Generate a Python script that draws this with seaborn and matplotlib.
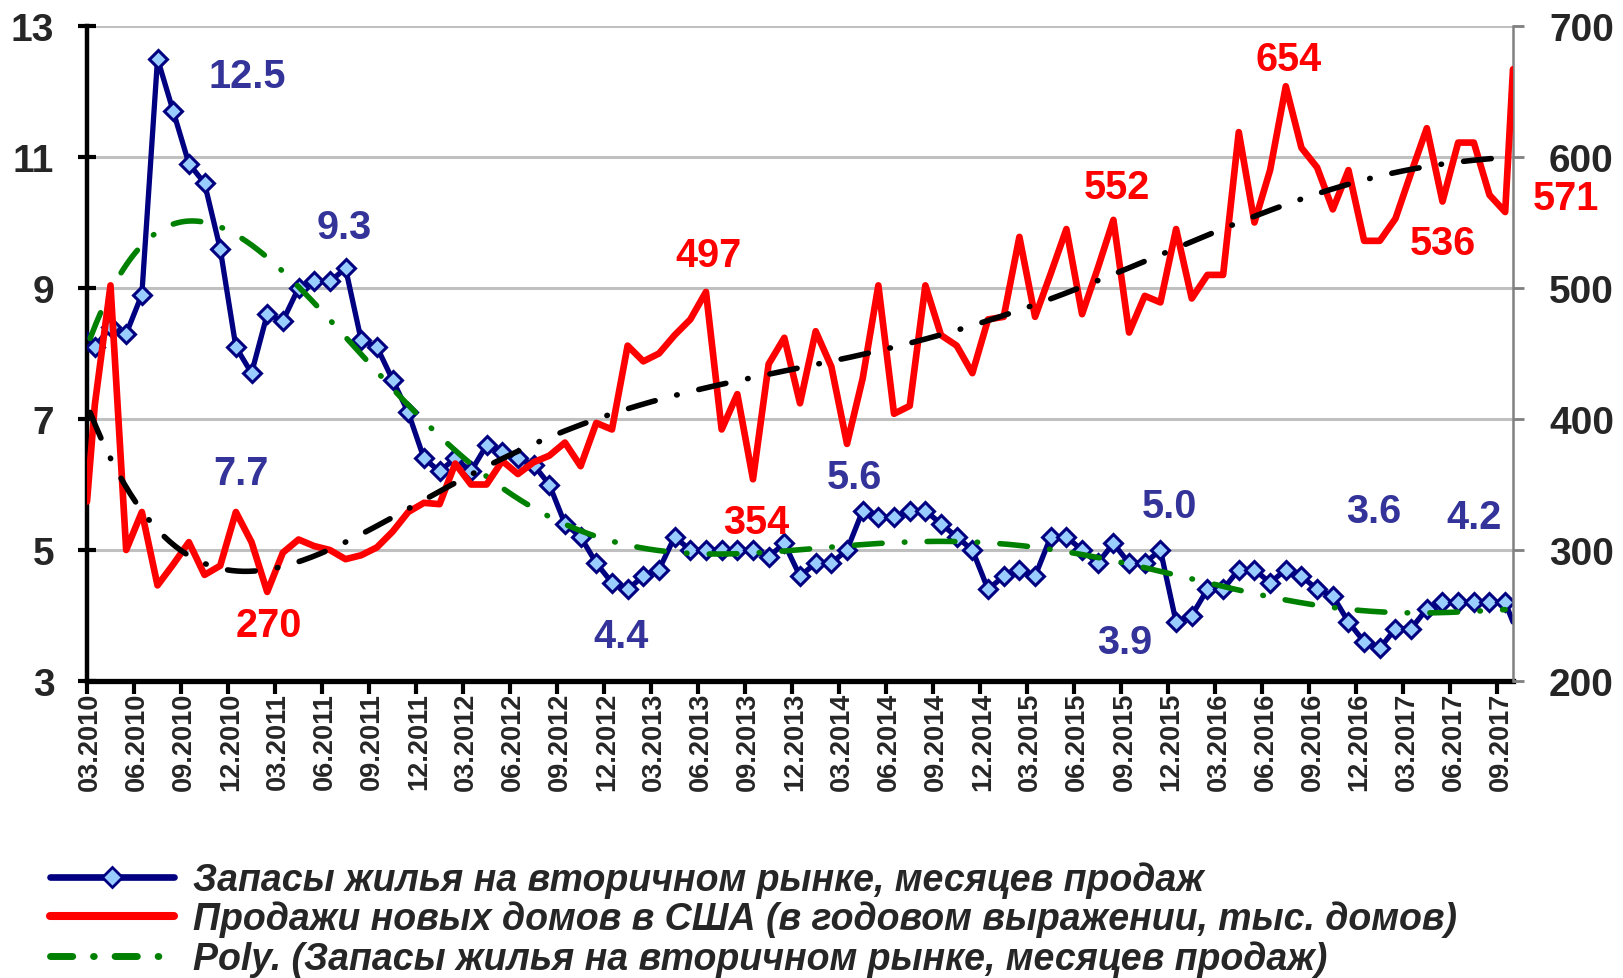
import numpy as np
import pandas as pd
import matplotlib
matplotlib.use("Agg")
import matplotlib.pyplot as plt
import seaborn as sns
from matplotlib.lines import Line2D

# ---------------- data (monthly, 02.2010 - 10.2017) ----------------
months = [p.strftime("%m.%Y") for p in pd.period_range("2010-02", "2017-10", freq="M")]

# Existing-home inventory, months of supply (left axis)
inventory = [8.3,
             8.1, 8.4, 8.3, 8.9, 12.5, 11.7, 10.9, 10.6, 9.6, 8.1,
             7.7, 8.6, 8.5, 9.0, 9.1, 9.1, 9.3, 8.2, 8.1, 7.6,
             7.1, 6.4, 6.2, 6.4, 6.2, 6.6, 6.5, 6.4, 6.3, 6.0,
             5.4, 5.2, 4.8, 4.5, 4.4, 4.6, 4.7, 5.2, 5.0, 5.0,
             5.0, 5.0, 5.0, 4.9, 5.1, 4.6, 4.8, 4.8, 5.0, 5.6,
             5.5, 5.5, 5.6, 5.6, 5.4, 5.2, 5.0, 4.4, 4.6, 4.7,
             4.6, 5.2, 5.2, 5.0, 4.8, 5.1, 4.8, 4.8, 5.0, 3.9,
             4.0, 4.4, 4.4, 4.7, 4.7, 4.5, 4.7, 4.6, 4.4, 4.3,
             3.9, 3.6, 3.5, 3.8, 3.8, 4.1, 4.2, 4.2, 4.2, 4.2,
             4.2,
             3.9]

# New home sales, SAAR, thousands (right axis)
new_home_sales = [337,
                  411, 502, 300, 329, 273, 289, 306, 281, 288, 329,
                  306, 268, 298, 308, 303, 300, 293, 296, 302, 314,
                  329, 336, 335, 366, 350, 350, 368, 358, 367, 372,
                  382, 364, 397, 392, 456, 444, 450, 464, 476, 497,
                  392, 419, 354, 442, 462, 412, 467, 440, 381, 431,
                  502, 404, 410, 502, 464, 456, 435, 476, 478, 539,
                  478, 511, 545, 480, 515, 552, 466, 494, 489, 545,
                  492, 510, 510, 619, 550, 590, 654, 607, 592, 560,
                  590, 536, 536, 553, 588, 622, 566, 611, 611, 571,
                  558,
                  667]

left_ticks = [3, 5, 7, 9, 11, 13]
right_ticks = [200, 300, 400, 500, 600, 700]
xtick_labels = [m for m in months[1:-1] if m[:2] in ("03", "06", "09", "12")]

# point annotations: (text, month index position, value)
blue_notes = [("12.5", 10.2, 12.23), ("9.3", 16.4, 9.93), ("7.7", 9.8, 6.18),
              ("4.4", 34.1, 3.69), ("5.6", 49.0, 6.11), ("5.0", 69.1, 5.67),
              ("3.9", 66.2, 3.59), ("3.6", 82.1, 5.60), ("4.2", 88.5, 5.51)]
red_notes = [("270", 11.6, 243), ("497", 39.65, 525), ("354", 42.7, 321),
             ("552", 65.7, 577), ("654", 76.7, 675), ("536", 86.5, 534),
             ("571", 94.4, 569)]

legend_labels = ["Запасы жилья на вторичном рынке, месяцев продаж",
                 "Продажи новых домов в США (в годовом выражении, тыс. домов)",
                 "Poly. (Запасы жилья на вторичном рынке, месяцев продаж)"]

# ---------------- style ----------------
sns.set_theme(style="white")
plt.rcParams['font.family'] = ['Liberation Sans', 'DejaVu Sans']
plt.rcParams['font.weight'] = 'bold'

NAVY = "#000080"
LIGHT = "#99CCFF"
RED = "#FF0000"
GREEN = "#008000"
LABEL_BLUE = "#333399"
GRID = "#C0C0C0"

n = len(months)
# category positions: first & last month sit on the plot edges
xpos = np.r_[0.0, np.arange(n - 2) + 0.5, float(n - 2)]
df = pd.DataFrame({"x": xpos, "inv": inventory, "sales": new_home_sales, "month": months})

W, H = 1623, 979
fig = plt.figure(figsize=(W / 100, H / 100), dpi=100)
ax = fig.add_axes([87 / W, 1 - 682 / H, (1513 - 87) / W, (682 - 27) / H])
ax2 = ax.twinx()

# gridlines
for v in left_ticks[1:]:
    ax.axhline(v, color=GRID, lw=2.2, zorder=0)

BLUE_LW, RED_LW, TREND_LW, MS = 3.8, 4.8, 4.0, 9.5

# blue series
sns.lineplot(data=df, x="x", y="inv", ax=ax, color=NAVY, lw=BLUE_LW, marker="D",
             markersize=MS, markerfacecolor=LIGHT, markeredgecolor=NAVY,
             markeredgewidth=2.2, markevery=list(range(1, n - 1)),
             estimator=None, sort=False, legend=False, zorder=3)

# polynomial trend of the blue series
xf = np.linspace(0.2, n - 2.5, 500)
cb = np.polyfit(df["x"], df["inv"], 6)
sns.lineplot(x=xf, y=np.polyval(cb, xf), ax=ax, color=GREEN, lw=TREND_LW,
             estimator=None, sort=False, legend=False, zorder=4)
ax.lines[-1].set_dashes([5.0, 4.0, 0.1, 4.0])
ax.lines[-1].set_dash_capstyle("round")

# red series
sns.lineplot(data=df, x="x", y="sales", ax=ax2, color=RED, lw=RED_LW,
             estimator=None, sort=False, legend=False, zorder=3)
cr = np.polyfit(df["x"], df["sales"], 6)
sns.lineplot(x=xf, y=np.polyval(cr, xf), ax=ax2, color="black", lw=TREND_LW,
             estimator=None, sort=False, legend=False, zorder=4)
ax2.lines[-1].set_dashes([5.0, 4.0, 0.1, 4.0])
ax2.lines[-1].set_dash_capstyle("round")

# axes limits and ticks
ax.set_xlim(0, n - 2)
ax.set_ylim(3, 13)
ax2.set_ylim(200, 700)
ax.set_yticks(left_ticks)
ax.set_yticklabels([str(t) for t in left_ticks])
ax2.set_yticks(right_ticks)
ax2.set_yticklabels([str(t) for t in right_ticks])

ax.set_xticks(np.arange(0, n - 2, 3))
ax.set_xticklabels([])
ax.set_xticks(np.arange(0, n - 2, 3) + 0.2, minor=True)
ax.set_xticklabels(xtick_labels, minor=True, rotation=90, fontsize=19.5,
                   fontweight="bold")
ax.tick_params(axis="x", which="major", direction="out", length=9.5, width=3,
               color="black", bottom=True)
ax.tick_params(axis="x", which="minor", length=0, pad=8, bottom=True)
ax.tick_params(axis="y", which="major", direction="inout", length=13, width=3,
               color="black", labelsize=28, pad=17, left=True)
ax2.tick_params(axis="y", which="major", direction="out", length=8, width=2,
                color="#808080", labelsize=28, pad=18, right=True)
for lab in ax.get_yticklabels() + ax2.get_yticklabels():
    lab.set_fontweight("bold")

ax.set_xlabel("")
ax.set_ylabel("")
ax2.set_ylabel("")
ax.grid(False)
ax2.grid(False)

for s in ["top", "right"]:
    ax.spines[s].set_visible(False)
ax.spines["left"].set_color("black")
ax.spines["left"].set_linewidth(3.2)
ax.spines["bottom"].set_color("black")
ax.spines["bottom"].set_linewidth(3.8)
for s in ["top", "left", "bottom"]:
    ax2.spines[s].set_visible(False)
ax2.spines["right"].set_color("#808080")
ax2.spines["right"].set_linewidth(1.8)

# annotations
for t, xx, yy in blue_notes:
    ax.text(xx, yy, t, color=LABEL_BLUE, fontsize=28.5, fontweight="bold",
            ha="center", va="center", zorder=6)
for t, xx, yy in red_notes:
    ax2.text(xx, yy, t, color=RED, fontsize=28.5, fontweight="bold",
             ha="center", va="center", zorder=6, clip_on=False)

# legend
handles = [
    Line2D([], [], color=NAVY, lw=BLUE_LW + 1, marker="D", markersize=MS + 1,
           markerfacecolor=LIGHT, markeredgecolor=NAVY, markeredgewidth=2.0),
    Line2D([], [], color=RED, lw=RED_LW + 1),
    Line2D([], [], color=GREEN, lw=TREND_LW + 1, dashes=[3.2, 3.0, 0.1, 3.0],
           dash_capstyle="round"),
]
fig.legend(handles, legend_labels, loc="upper left",
           bbox_to_anchor=(0.031, 1 - 862 / H), frameon=False, numpoints=1,
           prop=dict(family="Liberation Sans", weight="bold", style="italic", size=27),
           handlelength=3.3, handletextpad=0.5, labelspacing=0.08,
           borderpad=0, borderaxespad=0)

fig.savefig("out.png", dpi=100, facecolor="white")
